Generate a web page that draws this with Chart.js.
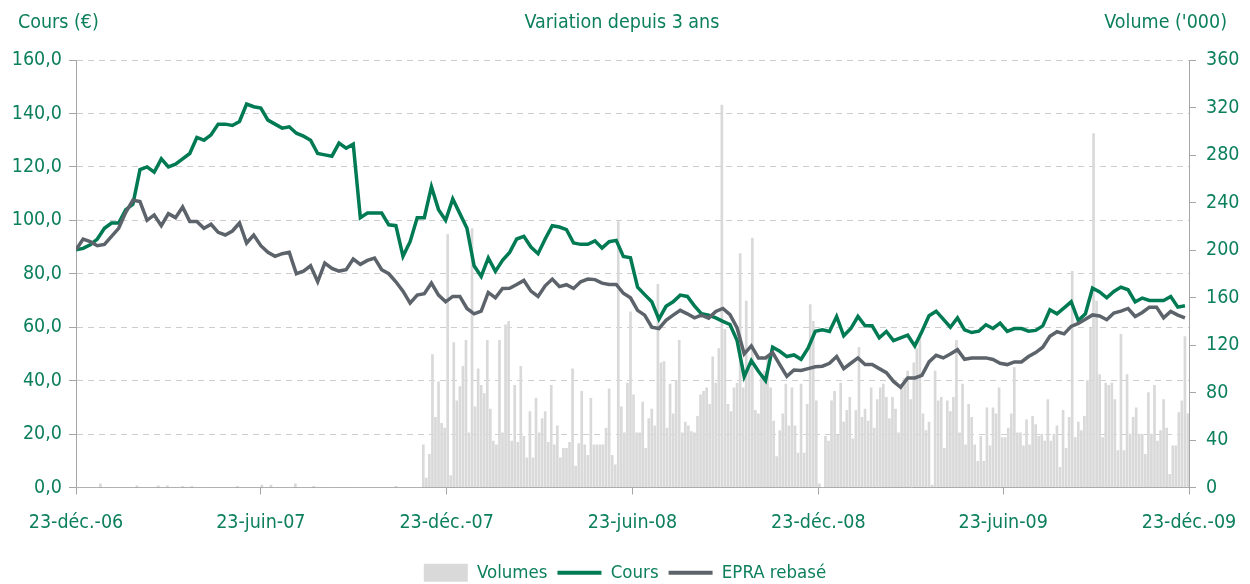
<!DOCTYPE html>
<html lang="fr">
<head>
    <meta charset="UTF-8">
    <title>Variation depuis 3 ans</title>
    <script src="https://cdn.jsdelivr.net/npm/chart.js"></script>
    <style>
        html, body { margin: 0; padding: 0; background: #ffffff; }
        #cadre { width: 1250px; height: 584px; position: relative; }
    </style>
</head>
<body>
<div id="cadre"><canvas id="graphe"></canvas></div>
<script>
    // Cours et EPRA rebasé : une valeur par semaine depuis le 23-déc.-06
    const cours = [
        89, 89.5, 90.8, 93, 97, 99, 99, 104, 106, 119,
        120, 118, 123, 120, 121, 123, 125, 131, 130, 132,
        136, 136, 135.5, 137, 143.5, 142.5, 142, 137.5, 136, 134.5,
        135, 132.6, 131.5, 130, 125, 124.5, 124, 128.9, 127, 128.5,
        101, 102.7, 102.7, 102.7, 98.3, 98, 86.5, 92, 101, 101,
        112.6, 104, 100, 108, 102.5, 97, 83, 79, 85.9, 80.9,
        85, 88, 93, 94, 90, 87.5, 93, 98, 97.5, 96.5,
        91.5, 91, 91, 92.3, 89.6, 92, 92.5, 86.5, 86, 75,
        72.2, 69.5, 63, 67.8, 69.5, 72, 71.5, 68, 65, 64.5,
        63.5, 62.2, 61, 55, 41.5, 47.5, 43.5, 40, 52.5, 51,
        49, 49.6, 48, 52.2, 58.5, 59, 58.4, 64, 56.8, 59.5,
        64, 60.5, 60.5, 56, 58.4, 55, 56, 57, 53, 58.4,
        64.3, 66, 63, 60, 63.5, 59, 58, 58.5, 60.9, 59.5,
        61.5, 58.4, 59.5, 59.5, 58.5, 58.8, 60.5, 66.5, 65, 67.2,
        69.5, 62.5, 65, 74.6, 73.2, 71, 73.4, 75, 74, 69.5,
        70.9, 70, 70, 70, 71.5, 67.5, 68
    ];
    const epra = [
        89, 93, 92, 90.5, 91, 94, 97, 103, 107.5, 107,
        100, 102, 98, 102.5, 101, 105, 99.6, 99.6, 97, 98.5,
        95.5, 94.5, 96, 99, 91.5, 94.5, 90.5, 88, 86.5, 87.5,
        88, 80, 81, 83, 77, 84, 82, 81, 81.5, 85.5,
        83.5, 85, 85.9, 81.5, 80, 77, 73.5, 69, 72, 72.5,
        76.5, 72, 69.5, 71.5, 71.5, 67, 65, 66, 73, 71,
        74.5, 74.6, 76, 77.5, 73.5, 71.5, 75.5, 78, 75.2, 75.9,
        74.5, 77, 78, 77.8, 76.5, 76, 76, 72.7, 71, 66.3,
        64.5, 60, 59.5, 62.6, 64.5, 66.3, 65, 63.5, 64.5, 63.4,
        65.9, 67, 64.7, 59.7, 50, 53, 48.5, 48.5, 50.5, 46,
        41.6, 44, 43.8, 44.5, 45.2, 45.4, 46.5, 49, 44.5, 46.5,
        48.5, 46, 46, 44.5, 43, 39.7, 37.5, 41, 41, 42,
        47, 49.5, 48.5, 50, 51.6, 48, 48.5, 48.5, 48.5, 47.9,
        46.5, 46, 47, 47, 49, 50.5, 52.5, 56.6, 58.3, 57.5,
        60.3, 61.4, 63, 64.6, 64.2, 62.8, 65.3, 66, 67, 64,
        65.5, 67.5, 67.5, 63.5, 65.9, 64.5, 63.5
    ];
    // Volumes ('000) : une barre tous les 3 jours
    const volumes = [
        0, 0, 0, 0, 0, 0, 0, 0, 3, 0,
        0, 0, 0, 0, 0, 0, 0, 0, 0, 0,
        1.5, 0, 0, 0, 0, 0, 0, 1.5, 0, 0,
        1.5, 0, 0, 0, 0, 1, 0, 0, 1, 0,
        0, 0, 0, 0, 0, 0, 0, 0, 0, 0,
        0, 0, 0, 1, 0, 0, 0, 0, 0, 0,
        0, 2, 0, 0, 2, 0, 0, 0, 0, 0,
        0, 0, 3, 0, 0, 0, 0, 0, 1, 0,
        0, 0, 0, 0, 0, 0, 0, 0, 0, 0,
        0, 0, 0, 0, 0, 0, 0, 0, 0, 0,
        0, 0, 0, 0, 0, 1, 0, 0, 0, 0,
        0, 0, 0, 0, 36, 8, 28, 112, 59, 89,
        54, 50, 213, 10, 122, 73, 85, 102, 124, 46,
        218, 68, 100, 86, 79, 124, 66, 39, 36, 124,
        46, 137, 140, 39, 86, 38, 102, 43, 25, 64,
        25, 75, 46, 58, 64, 38, 86, 36, 52, 25,
        33, 33, 38, 100, 18, 37, 81, 36, 27, 75,
        36, 36, 36, 36, 50, 83, 27, 19, 224, 68,
        46, 88, 148, 78, 46, 46, 72, 33, 58, 66,
        52, 171, 105, 106, 50, 87, 62, 90, 124, 46,
        55, 52, 47, 46, 60, 78, 81, 84, 70, 110,
        88, 117, 322, 133, 70, 64, 84, 88, 197, 84,
        157, 100, 210, 65, 62, 93, 98, 109, 84, 56,
        26, 48, 62, 87, 52, 84, 52, 29, 87, 29,
        70, 154, 140, 73, 3, 0, 43, 39, 73, 81,
        44, 88, 55, 65, 76, 41, 65, 118, 59, 66,
        56, 84, 50, 74, 84, 87, 76, 58, 76, 66,
        46, 87, 92, 98, 74, 105, 117, 127, 62, 48,
        55, 2, 98, 73, 76, 33, 73, 64, 76, 124,
        46, 87, 36, 70, 59, 36, 22, 43, 22, 67,
        35, 67, 62, 84, 42, 42, 50, 62, 101, 46,
        46, 35, 57, 36, 60, 53, 43, 45, 39, 74,
        39, 45, 52, 17, 65, 33, 59, 182, 42, 55,
        48, 60, 90, 134, 298, 157, 95, 42, 88, 86,
        88, 74, 31, 129, 31, 95, 45, 59, 67, 45,
        45, 28, 80, 45, 86, 39, 48, 74, 50, 11,
        35, 35, 63, 73, 127, 62
    ];
    const tickJours = [0, 182, 365, 548, 731, 913, 1096];
    const tickLabels = ['23-déc.-06', '23-juin-07', '23-déc.-07', '23-juin-08', '23-déc.-08', '23-juin-09', '23-déc.-09'];

    const vert = '#0C7F5C';
    const vertLigne = '#007A53';
    const grisLigne = '#5C636A';
    const grisAxe = '#A6A6A6';
    const police = "'DejaVu Sans Condensed', 'DejaVu Sans', sans-serif";
    const fonte = { family: police, size: 19.5 };

    // titres au-dessus du graphique
    const entetes = {
        id: 'entetes',
        afterDraw(chart) {
            const ctx = chart.ctx;
            ctx.save();
            ctx.fillStyle = vert;
            ctx.font = '19.5px ' + police;
            ctx.textBaseline = 'middle';
            ctx.textAlign = 'left';
            ctx.fillText('Cours (€)', 18, 23);
            ctx.textAlign = 'center';
            ctx.fillText('Variation depuis 3 ans', 622, 23);
            ctx.textAlign = 'right';
            ctx.fillText("Volume ('000)", 1227, 23);
            ctx.restore();
        }
    };

    new Chart(document.getElementById('graphe'), {
        type: 'bar',
        data: {
            datasets: [
                {
                    type: 'bar',
                    label: 'Volumes',
                    data: volumes.map((v, i) => ({ x: i * 3, y: v })),
                    yAxisID: 'yVol',
                    backgroundColor: '#D9D9D9',
                    barThickness: 2,
                    pointStyle: 'rect',
                    order: 3
                },
                {
                    type: 'line',
                    label: 'Cours',
                    data: cours.map((v, i) => ({ x: i * 7, y: v })),
                    yAxisID: 'y',
                    borderColor: vertLigne,
                    borderWidth: 3.5,
                    pointRadius: 0,
                    pointStyle: 'line',
                    pointBorderColor: vertLigne,
                    pointBorderWidth: 4,
                    tension: 0,
                    order: 2
                },
                {
                    type: 'line',
                    label: 'EPRA rebasé',
                    data: epra.map((v, i) => ({ x: i * 7, y: v })),
                    yAxisID: 'y',
                    borderColor: grisLigne,
                    borderWidth: 3.5,
                    pointRadius: 0,
                    pointStyle: 'line',
                    pointBorderColor: grisLigne,
                    pointBorderWidth: 4,
                    tension: 0,
                    order: 1
                }
            ]
        },
        options: {
            responsive: true,
            maintainAspectRatio: false,
            animation: false,
            layout: { padding: { top: 60, left: 0, right: 0, bottom: -8 } },
            plugins: {
                tooltip: { enabled: false },
                legend: {
                    position: 'bottom',
                    reverse: true,
                    labels: {
                        usePointStyle: true,
                        pointStyleWidth: 44,
                        boxHeight: 18,
                        color: vert,
                        font: { family: police, size: 18.5 },
                        padding: 10
                    }
                }
            },
            scales: {
                x: {
                    type: 'linear',
                    min: 0,
                    max: 1096,
                    offset: false,
                    afterBuildTicks: s => { s.ticks = tickJours.map(v => ({ value: v })); },
                    afterFit: s => { s.height = 66; },
                    ticks: {
                        autoSkip: false,
                        maxRotation: 0,
                        color: vert,
                        font: { family: police, size: 19.5, lineHeight: 2.2 },
                        padding: 7,
                        callback: (v, i) => tickLabels[i]
                    },
                    grid: { offset: false, drawOnChartArea: false, tickLength: 7, color: grisAxe },
                    border: { color: grisAxe }
                },
                y: {
                    position: 'left',
                    min: 0,
                    max: 160,
                    afterFit: s => { s.width = 76; },
                    ticks: {
                        stepSize: 20,
                        color: vert,
                        font: fonte,
                        padding: 7,
                        callback: v => v.toFixed(1).replace('.', ',')
                    },
                    grid: { color: '#CDCDCD', tickColor: grisAxe, tickLength: 7 },
                    border: { color: grisAxe, dash: [6, 5] }
                },
                yVol: {
                    position: 'right',
                    min: 0,
                    max: 360,
                    afterFit: s => { s.width = 61; },
                    ticks: { stepSize: 40, color: vert, font: fonte, padding: 10 },
                    grid: { drawOnChartArea: false, tickLength: 7, color: grisAxe },
                    border: { color: grisAxe }
                }
            }
        },
        plugins: [entetes]
    });
</script>
</body>
</html>
